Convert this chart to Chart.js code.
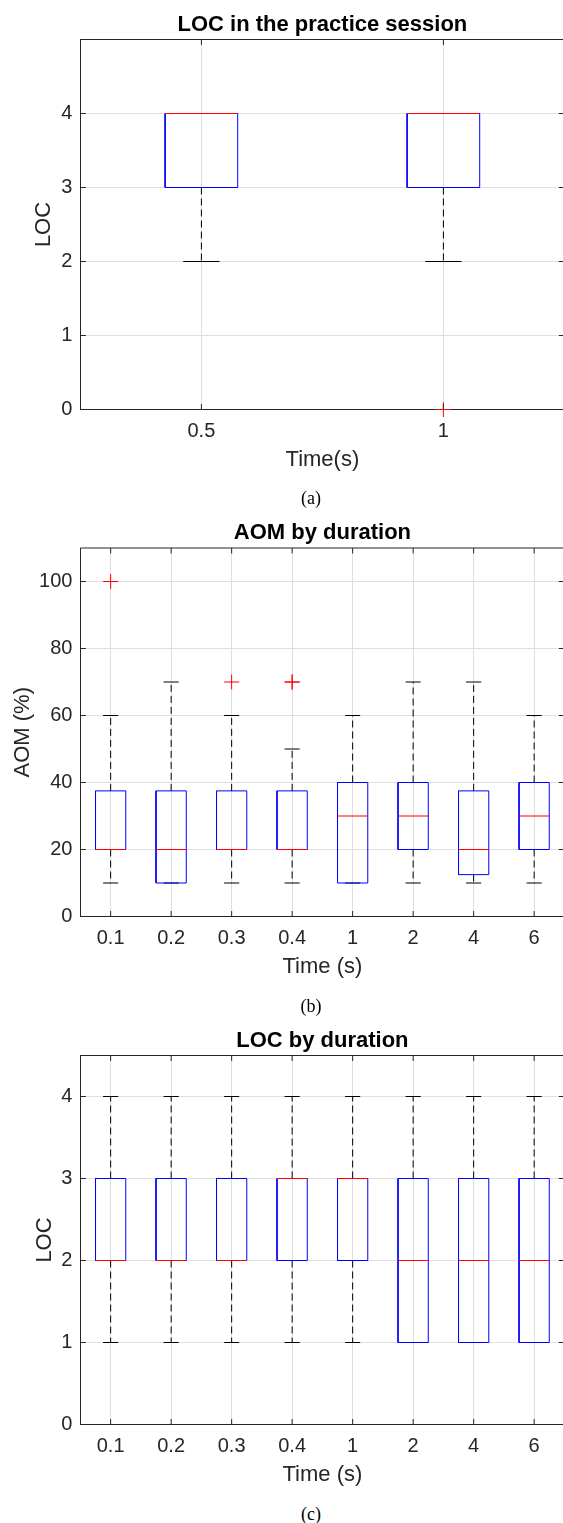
<!DOCTYPE html>
<html><head><meta charset="utf-8">
<script src="https://cdn.jsdelivr.net/npm/chart.js@4.4.1/dist/chart.umd.min.js"></script>
<style>
html,body{margin:0;padding:0;background:#fff;width:563px;height:1523px;overflow:hidden;position:relative}
.wrap{position:absolute;left:0;width:566px}
.cap{position:absolute;left:211px;width:200px;text-align:center;font-family:"Liberation Serif","Times New Roman",serif;font-size:18px;color:#000;line-height:20px}
</style></head><body>
<div class="wrap" style="top:0px"><canvas id="ca" width="566" height="474"></canvas></div>
<div class="wrap" style="top:508px"><canvas id="cb" width="566" height="473"></canvas></div>
<div class="wrap" style="top:1015px"><canvas id="cc" width="566" height="474"></canvas></div>
<div class="cap" style="top:488px">(a)</div>
<div class="cap" style="top:996px">(b)</div>
<div class="cap" style="top:1504px">(c)</div>
<script>
// ---- Panel (a): LOC in the practice session ----
const catsA = ['0.5', '1'];
const q1A = [3, 3];
const q3A = [4, 4];
const medA = [4, 4];
const loA = [2, 2];
const hiA = [4, 4];
const outA = [[], [0]];
const yTicksA = [0, 1, 2, 3, 4];

// ---- Panel (b): AOM by duration ----
const catsB = ['0.1', '0.2', '0.3', '0.4', '1', '2', '4', '6'];
const q1B = [20, 10, 20, 20, 10, 20, 12.5, 20];
const q3B = [37.5, 37.5, 37.5, 37.5, 40, 40, 37.5, 40];
const medB = [20, 20, 20, 20, 30, 30, 20, 30];
const loB = [10, 10, 10, 10, 10, 10, 10, 10];
const hiB = [60, 70, 60, 50, 60, 70, 70, 60];
const outB = [[100], [], [70], [70, 70], [], [], [], []];
const yTicksB = [0, 20, 40, 60, 80, 100];

// ---- Panel (c): LOC by duration ----
const catsC = ['0.1', '0.2', '0.3', '0.4', '1', '2', '4', '6'];
const q1C = [2, 2, 2, 2, 2, 1, 1, 1];
const q3C = [3, 3, 3, 3, 3, 3, 3, 3];
const medC = [2, 2, 2, 3, 3, 2, 2, 2];
const loC = [1, 1, 1, 1, 1, 1, 1, 1];
const hiC = [4, 4, 4, 4, 4, 4, 4, 4];
const outC = [[], [], [], [], [], [], [], []];
const yTicksC = [0, 1, 2, 3, 4];

const F = '"Liberation Sans", Arial, Helvetica, sans-serif';
const AX = '#262626';
const GRID = '#dfdfdf';

const frame = {
  id: 'frame',
  afterDraw(chart) {
    const {ctx, chartArea: a, scales: {x, y}} = chart;
    ctx.save();
    ctx.strokeStyle = AX; ctx.lineWidth = 1;
    ctx.beginPath();
    ctx.moveTo(a.left, a.top); ctx.lineTo(a.right, a.top); ctx.lineTo(a.right, a.bottom);
    x.ticks.forEach(t => {
      const p = x.getPixelForValue(t.value);
      ctx.moveTo(p, a.bottom); ctx.lineTo(p, a.bottom - 5.5);
      ctx.moveTo(p, a.top); ctx.lineTo(p, a.top + 5.5);
    });
    y.ticks.forEach(t => {
      const p = y.getPixelForValue(t.value);
      ctx.moveTo(a.left, p); ctx.lineTo(a.left + 5.5, p);
      ctx.moveTo(a.right, p); ctx.lineTo(a.right - 5.5, p);
    });
    ctx.stroke();
    ctx.restore();
  }
};

function makeChart(id, cats, q1, q3, med, lo, hi, outs, yTicks, yMax, title, xTitle, yTitle, yTitlePad, bw, cw, plotTop, plotH) {
  const canvas = document.getElementById(id);
  const xh = canvas.height - plotTop - plotH;
  const box = [], medL = [], caps = [], wh = [], pts = [];
  cats.forEach((c, i) => {
    const x = i + 1;
    box.push({x: x - bw, y: q1[i]}, {x: x + bw, y: q1[i]}, {x: x + bw, y: q3[i]}, {x: x - bw, y: q3[i]}, {x: x - bw, y: q1[i]}, {x: x, y: null});
    medL.push({x: x - bw, y: med[i]}, {x: x + bw, y: med[i]}, {x: x, y: null});
    caps.push({x: x - cw, y: lo[i]}, {x: x + cw, y: lo[i]}, {x: x, y: null}, {x: x - cw, y: hi[i]}, {x: x + cw, y: hi[i]}, {x: x, y: null});
    wh.push({x: x, y: q3[i]}, {x: x, y: hi[i]}, {x: x, y: null}, {x: x, y: q1[i]}, {x: x, y: lo[i]}, {x: x, y: null});
    outs[i].forEach(o => pts.push({x: x, y: o}));
  });
  const lineDs = (label, data, color, order, extra) => Object.assign({
    label, data, borderColor: color, backgroundColor: 'transparent', borderWidth: 1,
    pointRadius: 0, pointHoverRadius: 0, spanGaps: false, tension: 0, fill: false, order,
    borderCapStyle: 'butt'
  }, extra || {});
  const tPadTop = plotTop - 15 - 13.2;
  const tPadBot = plotTop - tPadTop - 26.4;
  new Chart(canvas, {
    type: 'line',
    data: {datasets: [
      {label: 'outliers', data: pts, showLine: false, pointStyle: 'cross', pointRadius: 7.5, pointHoverRadius: 7.5,
       pointBorderColor: '#ff0000', pointBackgroundColor: 'transparent', pointBorderWidth: 1, order: 1, clip: false},
      lineDs('median', medL, '#ff0000', 2),
      lineDs('box', box, '#0000ff', 3),
      lineDs('caps', caps, '#000000', 4),
      lineDs('whiskers', wh, '#000000', 5, {borderDash: [7, 4]})
    ]},
    options: {
      responsive: false, animation: false, devicePixelRatio: 1, events: [],
      layout: {autoPadding: false, padding: {left: 0, right: 1.6, top: 0, bottom: 0}},
      plugins: {
        legend: {display: false}, tooltip: {enabled: false},
        title: {display: true, text: title, fullSize: false, color: '#000',
          font: {family: F, size: 22, weight: 'bold'}, padding: {top: tPadTop, bottom: tPadBot}}
      },
      scales: {
        x: {
          type: 'linear', min: 0.5, max: cats.length + 0.5,
          afterBuildTicks: s => { s.ticks = cats.map((c, i) => ({value: i + 1})); },
          afterFit: s => { s.height = xh; s.paddingLeft = 0; s.paddingRight = 0; s.paddingTop = 0; s.paddingBottom = 0; },
          ticks: {autoSkip: false, maxRotation: 0, color: AX, padding: 9.5,
            font: {family: F, size: 20}, callback: (v, i) => cats[i]},
          grid: {color: GRID, drawTicks: false, lineWidth: 1},
          border: {color: AX, width: 1},
          title: {display: true, text: xTitle, color: AX, font: {family: F, size: 22}, padding: {top: 0, bottom: xh - 63.7}}
        },
        y: {
          min: 0, max: yMax,
          afterBuildTicks: s => { s.ticks = yTicks.map(v => ({value: v})); },
          afterFit: s => { s.width = 80.4; s.paddingLeft = 0; s.paddingRight = 0; s.paddingTop = 0; s.paddingBottom = 0; },
          ticks: {color: AX, padding: 8, font: {family: F, size: 20}},
          grid: {color: GRID, drawTicks: false, lineWidth: 1},
          border: {color: AX, width: 1},
          title: {display: true, text: yTitle, color: AX, font: {family: F, size: 22}, padding: {top: yTitlePad, bottom: 0}}
        }
      }
    },
    plugins: [frame]
  });
}

makeChart('ca', catsA, q1A, q3A, medA, loA, hiA, outA, yTicksA, 5, 'LOC in the practice session', 'Time(s)', 'LOC', 30.6, 0.15, 0.075, 39.5, 370);
makeChart('cb', catsB, q1B, q3B, medB, loB, hiB, outB, yTicksB, 110, 'AOM by duration', 'Time (s)', 'AOM (%)', 10.1, 0.25, 0.125, 40, 368.5);
makeChart('cc', catsC, q1C, q3C, medC, loC, hiC, outC, yTicksC, 4.5, 'LOC by duration', 'Time (s)', 'LOC', 31.4, 0.25, 0.125, 40.5, 369);
</script>
</body></html>
